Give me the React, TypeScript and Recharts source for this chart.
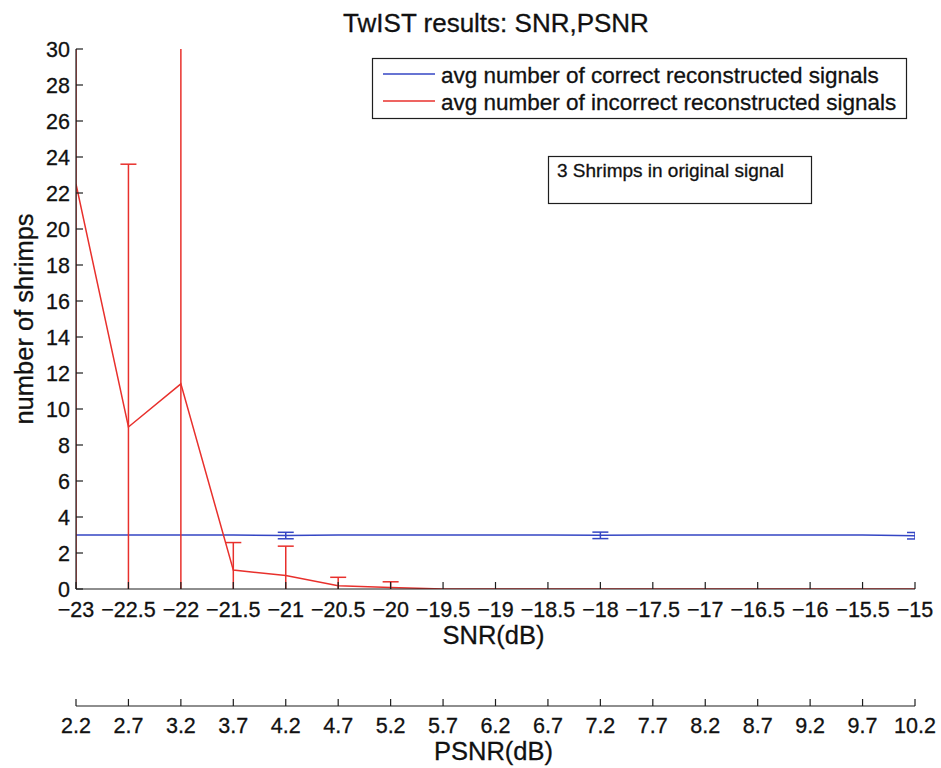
import React from 'react';
import { ComposedChart, Line, XAxis, YAxis, ErrorBar, Label } from 'recharts';

const snr = [-23, -22.5, -22, -21.5, -21, -20.5, -20, -19.5, -19, -18.5, -18, -17.5, -17, -16.5, -16, -15.5, -15];
const psnr = [2.2, 2.7, 3.2, 3.7, 4.2, 4.7, 5.2, 5.7, 6.2, 6.7, 7.2, 7.7, 8.2, 8.7, 9.2, 9.7, 10.2];
const correct = [3, 3, 3, 3, 2.97, 3, 3, 3, 3, 3, 2.98, 3, 3, 3, 3, 3, 2.96];
const correctErr = [null, null, null, null, 0.18, null, null, null, null, null, 0.18, null, null, null, null, null, 0.18];
const incorrect = [22.5, 9.0, 11.4, 1.05, 0.75, 0.18, 0.09, 0, 0, 0, 0, 0, 0, 0, 0, 0, 0];
const incorrectErr = [23, 14.6, 20, 1.53, 1.63, 0.47, 0.31, null, null, null, null, null, null, null, null, null, null];

const yTicks = [0, 2, 4, 6, 8, 10, 12, 14, 16, 18, 20, 22, 24, 26, 28, 30];

const seriesNames = ['avg number of correct reconstructed signals', 'avg number of incorrect reconstructed signals'];
const seriesColors = ['#3446c4', '#e8302c'];

const data = snr.map((s, i) => ({
  snr: s,
  psnr: psnr[i],
  correct: correct[i],
  correctErr: correctErr[i],
  incorrect: incorrect[i],
  incorrectErr: incorrectErr[i],
}));

const FONT = "'Liberation Sans', Arial, Helvetica, sans-serif";
const INK = '#1e1e1e';
// scanned reference text is a bit heavy, thicken glyphs slightly
const heavy = { stroke: '#111', strokeWidth: 0.3 };

const fmtSnr = (v: number) => (v < 0 ? '\u2212' + String(Math.abs(v)) : String(v));

// ticks point into the plot, labels sit outside
function XTick(props: any) {
  const { x, y, payload, fmt } = props;
  return (
    <g>
      <line x1={x} x2={x} y1={y} y2={y - 7} stroke={INK} strokeWidth={1.2} />
      <text x={x} y={y + 28} textAnchor="middle" fontSize={21.5} fontFamily={FONT} fill="#111" {...heavy}>
        {fmt(payload.value)}
      </text>
    </g>
  );
}

function PTick(props: any) {
  const { x, y, payload } = props;
  return (
    <g>
      <line x1={x} x2={x} y1={y} y2={y - 7} stroke={INK} strokeWidth={1.2} />
      <text x={x} y={y + 27} textAnchor="middle" fontSize={21.5} fontFamily={FONT} fill="#111" {...heavy}>
        {Number(payload.value).toFixed(1)}
      </text>
    </g>
  );
}

function YTick(props: any) {
  const { x, y, payload } = props;
  return (
    <g>
      <line x1={x} x2={x + 7} y1={y} y2={y} stroke={INK} strokeWidth={1.2} />
      <text x={x - 6} y={y + 7.5} textAnchor="end" fontSize={21.5} fontFamily={FONT} fill="#111" {...heavy}>
        {payload.value}
      </text>
    </g>
  );
}

export default function App() {
  return (
    <div style={{ position: 'absolute', left: 0, top: 0, width: 941, height: 768, background: '#fff' }}>
      <style>{`.recharts-errorBar { clip-path: url(#plotClip); }`}</style>
      <ComposedChart width={941} height={768} data={data} margin={{ top: 49, right: 26, bottom: 2, left: 0 }}>
        <XAxis
          dataKey="snr"
          type="number"
          domain={[-23, -15]}
          ticks={snr}
          interval={0}
          allowDataOverflow
          height={117}
          tickSize={0}
          tickMargin={0}
          tick={<XTick fmt={fmtSnr} />}
          axisLine={{ stroke: INK, strokeWidth: 1.2 }}
        >
          <Label
            content={(p: any) => (
              <text
                x={p.viewBox.x + p.viewBox.width / 2 - 2}
                y={p.viewBox.y + 55}
                textAnchor="middle"
                fontSize={25.5}
                fontFamily={FONT}
                fill="#111"
                {...heavy}
              >
                SNR(dB)
              </text>
            )}
          />
        </XAxis>
        <XAxis
          xAxisId="psnr"
          dataKey="psnr"
          type="number"
          domain={[2.2, 10.2]}
          ticks={psnr}
          interval={0}
          allowDataOverflow
          height={60}
          tickSize={0}
          tickMargin={0}
          tick={<PTick />}
          axisLine={{ stroke: INK, strokeWidth: 1.2 }}
        >
          <Label
            content={(p: any) => (
              <text
                x={p.viewBox.x + p.viewBox.width / 2 - 2}
                y={p.viewBox.y + 54}
                textAnchor="middle"
                fontSize={25.5}
                fontFamily={FONT}
                fill="#111"
                {...heavy}
              >
                PSNR(dB)
              </text>
            )}
          />
        </XAxis>
        <YAxis
          type="number"
          domain={[0, 30]}
          ticks={yTicks}
          interval={0}
          allowDataOverflow
          width={76}
          tickSize={0}
          tickMargin={0}
          tick={<YTick />}
          axisLine={{ stroke: INK, strokeWidth: 1.2 }}
        >
          <Label
            content={(p: any) => {
              const cy = p.viewBox.y + p.viewBox.height / 2;
              return (
                <text
                  x={33}
                  y={cy}
                  transform={`rotate(-90, 33, ${cy})`}
                  textAnchor="middle"
                  fontSize={25.5}
                  fontFamily={FONT}
                  fill="#111"
                  {...heavy}
                >
                  number of shrimps
                </text>
              );
            }}
          />
        </YAxis>
        <Line
          dataKey="correct"
          name={seriesNames[0]}
          type="linear"
          stroke={seriesColors[0]}
          strokeWidth={1.5}
          dot={false}
          isAnimationActive={false}
        >
          <ErrorBar dataKey="correctErr" direction="y" width={8} stroke={seriesColors[0]} strokeWidth={1.5} isAnimationActive={false} />
        </Line>
        <Line
          dataKey="incorrect"
          name={seriesNames[1]}
          type="linear"
          stroke={seriesColors[1]}
          strokeWidth={1.5}
          dot={false}
          isAnimationActive={false}
        >
          <ErrorBar dataKey="incorrectErr" direction="y" width={8} stroke={seriesColors[1]} strokeWidth={1.5} isAnimationActive={false} />
        </Line>
      </ComposedChart>

      <svg
        width={941}
        height={768}
        style={{ position: 'absolute', left: 0, top: 0, pointerEvents: 'none' }}
        fontFamily={FONT}
      >
        <defs>
          <clipPath id="plotClip" clipPathUnits="userSpaceOnUse">
            <rect x={76} y={49} width={839} height={540} />
          </clipPath>
        </defs>
        <text x={496} y={32} textAnchor="middle" fontSize={26} fill="#111" {...heavy}>
          TwIST results: SNR,PSNR
        </text>

        <rect x={372.5} y={58.5} width={534} height={60} fill="#fff" stroke={INK} strokeWidth={1.2} />
        {seriesNames.map((name, i) => (
          <g key={name}>
            <line x1={383} x2={435} y1={74 + i * 27} y2={74 + i * 27} stroke={seriesColors[i]} strokeWidth={1.5} />
            <text x={441} y={83 + i * 27} fontSize={22.5} fill="#111" {...heavy}>
              {name}
            </text>
          </g>
        ))}

        <rect x={548.5} y={156.5} width={263} height={47} fill="#fff" stroke={INK} strokeWidth={1.2} />
        <text x={557} y={177} fontSize={19} fill="#111" {...heavy}>
          3 Shrimps in original signal
        </text>
      </svg>
    </div>
  );
}
